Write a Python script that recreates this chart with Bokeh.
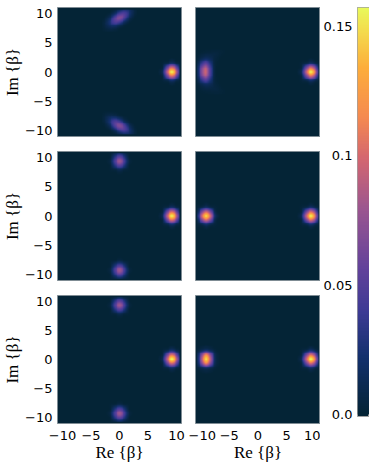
import numpy as np
from bokeh.embed import file_html
from bokeh.layouts import column, row
from bokeh.models import FixedTicker, LinearColorMapper, Range1d
from bokeh.plotting import figure
from bokeh.resources import INLINE

# Colour-bar anchors
cmap_pos = [0.0, 0.14, 0.25, 0.36, 0.5, 0.63, 0.73, 0.85, 0.95, 1.0]
cmap_hex = ["#042436", "#13306d", "#3c3a94", "#63429b", "#9a5590", "#d5676f",
            "#f58a50", "#fdad3b", "#f3df4f", "#e8fa5b"]

cbar_ticks = [0.0, 0.05, 0.1, 0.15]
cbar_labels = ["0.0", "0.05", "0.1", "0.15"]
axis_ticks = [-10, -5, 0, 5, 10]
x_label = "Re {β}"
y_label = "Im {β}"
step = 0.75  # cell size of the tables below, in beta units

# Relative blob shapes (top row = largest Im, left col = smallest Re)
round_blob = [
    [0.00, 0.00, 0.00, 0.00, 0.00, 0.00, 0.00, 0.00, 0.00],
    [0.00, 0.00, 0.00, 0.00, 0.01, 0.00, 0.00, 0.00, 0.00],
    [0.00, 0.00, 0.02, 0.06, 0.14, 0.06, 0.02, 0.00, 0.00],
    [0.00, 0.00, 0.06, 0.39, 0.62, 0.39, 0.06, 0.00, 0.00],
    [0.00, 0.01, 0.14, 0.62, 1.00, 0.62, 0.14, 0.01, 0.00],
    [0.00, 0.00, 0.06, 0.39, 0.62, 0.39, 0.06, 0.00, 0.00],
    [0.00, 0.00, 0.02, 0.06, 0.14, 0.06, 0.02, 0.00, 0.00],
    [0.00, 0.00, 0.00, 0.00, 0.01, 0.00, 0.00, 0.00, 0.00],
    [0.00, 0.00, 0.00, 0.00, 0.00, 0.00, 0.00, 0.00, 0.00],
]
square_blob = [
    [0.00, 0.00, 0.00, 0.00, 0.00, 0.00, 0.00, 0.00, 0.00],
    [0.00, 0.00, 0.00, 0.01, 0.02, 0.01, 0.00, 0.00, 0.00],
    [0.00, 0.00, 0.02, 0.08, 0.14, 0.08, 0.02, 0.00, 0.00],
    [0.00, 0.01, 0.08, 0.42, 0.74, 0.42, 0.08, 0.01, 0.00],
    [0.00, 0.01, 0.10, 0.55, 1.00, 0.55, 0.10, 0.01, 0.00],
    [0.00, 0.01, 0.08, 0.42, 0.74, 0.42, 0.08, 0.01, 0.00],
    [0.00, 0.00, 0.02, 0.08, 0.14, 0.08, 0.02, 0.00, 0.00],
    [0.00, 0.00, 0.00, 0.01, 0.02, 0.01, 0.00, 0.00, 0.00],
    [0.00, 0.00, 0.00, 0.00, 0.00, 0.00, 0.00, 0.00, 0.00],
]
tilted_blob = [
    [0.00, 0.00, 0.00, 0.00, 0.00, 0.00, 0.00, 0.00, 0.00],
    [0.00, 0.00, 0.00, 0.00, 0.00, 0.01, 0.02, 0.02, 0.01],
    [0.00, 0.00, 0.00, 0.02, 0.08, 0.18, 0.20, 0.11, 0.03],
    [0.00, 0.00, 0.04, 0.22, 0.53, 0.66, 0.44, 0.15, 0.03],
    [0.00, 0.06, 0.28, 0.73, 1.00, 0.73, 0.28, 0.06, 0.00],
    [0.03, 0.15, 0.44, 0.66, 0.53, 0.22, 0.04, 0.00, 0.00],
    [0.03, 0.11, 0.20, 0.18, 0.08, 0.02, 0.00, 0.00, 0.00],
    [0.01, 0.02, 0.02, 0.01, 0.00, 0.00, 0.00, 0.00, 0.00],
    [0.00, 0.00, 0.00, 0.00, 0.00, 0.00, 0.00, 0.00, 0.00],
]
tilted_down_blob = tilted_blob[::-1]
crescent_blob = [
    [0.00, 0.00, 0.005, 0.01, 0.015, 0.02, 0.02, 0.01, 0.00],
    [0.00, 0.005, 0.03, 0.05, 0.05, 0.05, 0.03, 0.01, 0.00],
    [0.00, 0.02, 0.10, 0.16, 0.12, 0.05, 0.015, 0.00, 0.00],
    [0.005, 0.07, 0.32, 0.48, 0.26, 0.05, 0.005, 0.00, 0.00],
    [0.01, 0.13, 0.60, 0.86, 0.42, 0.06, 0.003, 0.00, 0.00],
    [0.01, 0.15, 0.70, 1.00, 0.47, 0.06, 0.003, 0.00, 0.00],
    [0.01, 0.13, 0.60, 0.86, 0.42, 0.06, 0.003, 0.00, 0.00],
    [0.005, 0.07, 0.32, 0.48, 0.26, 0.05, 0.005, 0.00, 0.00],
    [0.00, 0.02, 0.10, 0.16, 0.12, 0.05, 0.015, 0.00, 0.00],
    [0.00, 0.005, 0.03, 0.05, 0.05, 0.05, 0.03, 0.01, 0.00],
    [0.00, 0.00, 0.005, 0.01, 0.015, 0.02, 0.02, 0.01, 0.00],
]
shapes = {"round": round_blob, "square": square_blob, "tilted": tilted_blob,
          "tilted_down": tilted_down_blob, "crescent": crescent_blob}

# One entry per blob: panel (row, col), shape, table-centre position, peak value
blob_row = [0, 0, 0, 0, 0, 1, 1, 1, 1, 1, 2, 2, 2, 2, 2]
blob_col = [0, 0, 0, 1, 1, 0, 0, 0, 1, 1, 0, 0, 0, 1, 1]
blob_shape = ["tilted", "round", "tilted_down", "crescent", "round",
              "round", "round", "round", "round", "round",
              "round", "round", "round", "square", "round"]
blob_cx = [0.0, 9.1, 0.0, -8.3, 9.1, 0.0, 9.1, 0.0, -9.05, 9.1, 0.0, 9.1, 0.0, -9.05, 9.1]
blob_cy = [9.2, 0.0, -9.2, 0.0, 0.0, 9.3, 0.0, -9.3, 0.0, 0.0, 9.3, 0.0, -9.3, 0.0, 0.0]
blob_peak = [0.075, 0.155, 0.075, 0.095, 0.155, 0.08, 0.155, 0.08, 0.15, 0.155, 0.08, 0.155, 0.08, 0.15, 0.155]

XLIM, YLIM = 10.875, 11.0
VMIN, VMAX = -0.0008, 0.1574
positions = np.linspace(0, 1, 256)
rgb = np.array([[int(h[i:i + 2], 16) for i in (1, 3, 5)] for h in cmap_hex], dtype=float)
palette = ["#%02x%02x%02x" % tuple(int(round(np.interp(t, cmap_pos, rgb[:, k]))) for k in range(3))
           for t in positions]
mapper = LinearColorMapper(palette=palette, low=0.0, high=VMAX)

BG = cmap_hex[0]
OUTLINE = "#7f8c94"
TICK_FONT = "DejaVu Sans"
LABEL_FONT = "Liberation Serif"
FINE = 5  # the SVG image is not smoothed by the browser, so resample each table for display
SOFTENED = {"tilted", "tilted_down"}  # coarse diagonal tables need a little display blur


def resample_axis(a):
    """Catmull-Rom display resampling along axis 0."""
    n = a.shape[0]
    t = np.arange((n - 1) * FINE + 1) / FINE
    i = np.minimum(t.astype(int), n - 2)
    f = (t - i).reshape(-1, *([1] * (a.ndim - 1)))
    p0, p1 = a[np.maximum(i - 1, 0)], a[i]
    p2, p3 = a[i + 1], a[np.minimum(i + 2, n - 1)]
    return 0.5 * (2 * p1 + (p2 - p0) * f + (2 * p0 - 5 * p1 + 4 * p2 - p3) * f ** 2
                  + (3 * p1 - p0 - 3 * p2 + p3) * f ** 3)


def smooth(table):
    out = resample_axis(table)
    out = resample_axis(out.T).T
    return np.clip(out, 0, None)


def soften(img):
    kernel = np.ones(5) / 5
    out = np.apply_along_axis(lambda v: np.convolve(v, kernel, mode="same"), 0, img)
    return np.apply_along_axis(lambda v: np.convolve(v, kernel, mode="same"), 1, out)


def crop_to_frame(img, left, lim, cell):
    """Keep only the columns of img whose extent lies inside +-lim."""
    n = img.shape[1]
    first = max(0, int(np.ceil((-lim - left) / cell)))
    last = min(n, int(np.floor((lim - left) / cell)))
    return img[:, first:last], left + first * cell


def panel(r, c):
    left_col = c == 0
    bottom = r == 2
    p = figure(
        frame_width=124 if left_col else 125, frame_height=129 if r < 2 else 128,
        x_range=Range1d(-XLIM, XLIM), y_range=Range1d(-YLIM, YLIM),
        x_axis_location="below" if bottom else None,
        y_axis_location="left" if left_col else None,
        toolbar_location=None, output_backend="svg",
        background_fill_color=BG, border_fill_color="white",
        min_border_left=49 if left_col else 7,
        min_border_right=7 if left_col else 0,
        min_border_top=0, min_border_bottom=36 if bottom else 15,
        outline_line_color=OUTLINE, outline_line_width=1,
    )
    p.grid.visible = False
    for ax in p.xaxis + p.yaxis:
        ax.ticker = FixedTicker(ticks=axis_ticks)
        ax.major_tick_line_color = None
        ax.minor_tick_line_color = None
        ax.major_tick_in = 0
        ax.major_tick_out = 0
        ax.minor_tick_in = 0
        ax.minor_tick_out = 0
        ax.axis_line_color = None
        ax.major_label_text_font = TICK_FONT
        ax.major_label_text_font_size = "13px"
        ax.major_label_text_color = "#000000"
        ax.major_label_standoff = 5
        ax.axis_label_text_font = LABEL_FONT
        ax.axis_label_text_font_size = "17px"
        ax.axis_label_text_font_style = "normal"
        ax.axis_label_text_color = "#000000"
        ax.axis_label_standoff = 0
    for ax in p.xaxis:
        ax.axis_label = x_label
        ax.major_label_standoff = 7
    for ax in p.yaxis:
        ax.axis_label = y_label
    cell = step / FINE
    for br, bc, s, cx, cy, pk in zip(blob_row, blob_col, blob_shape, blob_cx, blob_cy, blob_peak):
        if br != r or bc != c:
            continue
        table = np.array(shapes[s], dtype=float)[::-1] * pk
        fine = smooth(table)
        if s in SOFTENED:
            fine = soften(fine)
        ny, nx = fine.shape
        fine, left = crop_to_frame(fine, cx - nx * cell / 2, XLIM - 0.25, cell)
        fine_t, low = crop_to_frame(fine.T, cy - ny * cell / 2, YLIM - 0.25, cell)
        fine = fine_t.T
        p.image(image=[fine], x=left, y=low, dw=fine.shape[1] * cell, dh=fine.shape[0] * cell,
                color_mapper=mapper)
    return p


grid = [[panel(r, c) for c in range(2)] for r in range(3)]

cbar = figure(
    frame_width=12, frame_height=409,
    x_range=Range1d(0, 1), y_range=Range1d(VMIN, VMAX),
    x_axis_location=None, y_axis_location="left",
    toolbar_location=None, output_backend="svg",
    background_fill_color=BG,
    min_border_left=35, min_border_right=0, min_border_top=0, min_border_bottom=6,
    outline_line_color="#a0a0a0", outline_line_width=1,
)
cbar.grid.visible = False
gradient = np.linspace(0.0, VMAX, 256).reshape(-1, 1)
cbar.image(image=[gradient], x=0, y=0.0, dw=1, dh=VMAX, color_mapper=mapper)
cax = cbar.yaxis[0]
cax.ticker = FixedTicker(ticks=cbar_ticks)
cax.major_label_overrides = {t: l for t, l in zip(cbar_ticks, cbar_labels)}
cax.major_tick_line_color = None
cax.minor_tick_line_color = None
cax.major_tick_in = 0
cax.major_tick_out = 0
cax.minor_tick_in = 0
cax.minor_tick_out = 0
cax.axis_line_color = None
cax.major_label_text_font = TICK_FONT
cax.major_label_text_font_size = "13px"
cax.major_label_text_color = "#000000"
cax.major_label_standoff = 5

page = row(
    column(grid[0][0], grid[1][0], grid[2][0], spacing=0),
    column(grid[0][1], grid[1][1], grid[2][1], spacing=0),
    cbar,
    spacing=0,
    margin=(7, 0, 0, 0),
)

open("out.html", "w").write(file_html(page, INLINE))
